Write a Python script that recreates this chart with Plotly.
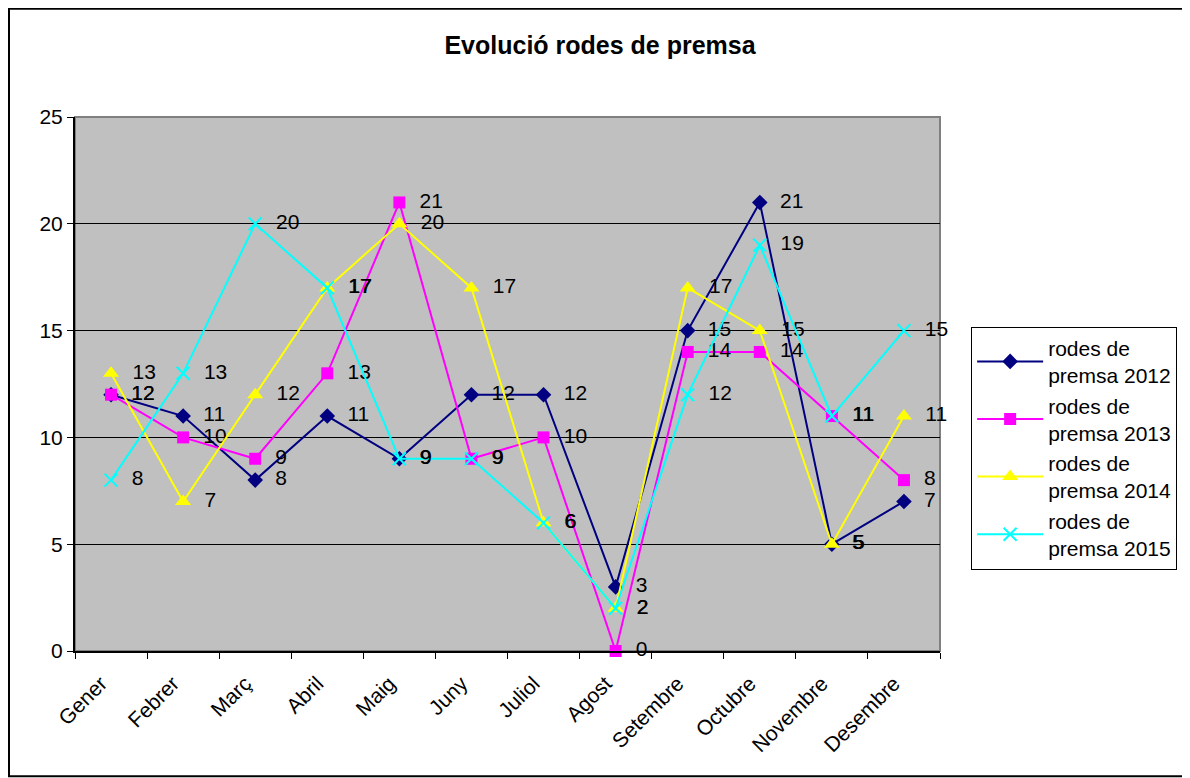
import plotly.graph_objects as go

mesos = ['Gener', 'Febrer', 'Març', 'Abril', 'Maig', 'Juny', 'Juliol',
         'Agost', 'Setembre', 'Octubre', 'Novembre', 'Desembre']

rodes_2012 = [12, 11, 8, 11, 9, 12, 12, 3, 15, 21, 5, 7]
rodes_2013 = [12, 10, 9, 13, 21, 9, 10, 0, 14, 14, 11, 8]
rodes_2014 = [13, 7, 12, 17, 20, 17, 6, 2, 17, 15, 5, 11]
rodes_2015 = [8, 13, 20, 17, 9, 9, 6, 2, 12, 19, 11, 15]

series = [
    ('rodes de<br>premsa 2012', rodes_2012, '#000080', 'diamond'),
    ('rodes de<br>premsa 2013', rodes_2013, '#FF00FF', 'square'),
    ('rodes de<br>premsa 2014', rodes_2014, '#FFFF00', 'triangle-up'),
    ('rodes de<br>premsa 2015', rodes_2015, '#00FFFF', 'x-thin'),
]

font = 'Arial, Liberation Sans, sans-serif'

fig = go.Figure()
for nom, valors, color, simbol in series:
    marker = dict(symbol=simbol, size=12, color=color)
    if simbol == 'triangle-up':
        marker = dict(symbol=simbol, size=14, color=color)
    if simbol == 'x-thin':
        marker = dict(symbol=simbol, size=13, color=color,
                      line=dict(color=color, width=2))
    fig.add_trace(go.Scatter(
        x=mesos, y=valors, name=nom, mode='lines+markers+text',
        line=dict(color=color, width=2), marker=marker,
        text=['&nbsp;&nbsp;' + str(v) for v in valors],
        textposition='middle right',
        textfont=dict(family=font, size=21, color='black'),
        cliponaxis=False,
    ))

fig.update_layout(
    width=1190, height=778,
    margin=dict(l=67, r=258, t=109, b=135),
    paper_bgcolor='white', plot_bgcolor='#C0C0C0',
    font=dict(family=font, size=21, color='black'),
    title=dict(text='<b>Evolució rodes de premsa</b>', x=0.4975, y=0.952,
               xanchor='center', yanchor='middle', font=dict(size=25)),
    showlegend=True,
    legend=dict(x=1.036, y=0.38, xanchor='left', yanchor='middle',
                bordercolor='black', borderwidth=1, bgcolor='white',
                font=dict(size=21), tracegroupgap=0, itemwidth=66),
    shapes=[
        dict(type='rect', xref='paper', yref='paper', x0=-0.0763, x1=1.2855,
             y0=-0.2345, y1=1.2026, line=dict(color='black', width=2),
             layer='below'),
        dict(type='rect', xref='paper', yref='paper', x0=0, x1=1, y0=0, y1=1,
             line=dict(color='#808080', width=2), layer='below'),
    ],
)

fig.update_xaxes(
    type='category', range=[-0.5, 11.5], tickson='boundaries',
    ticks='outside', ticklen=6, tickcolor='black', tickangle=-45,
    ticklabelstandoff=10, ticklabelshift=-10,
    showline=True, linecolor='black', linewidth=2, showgrid=False,
    tickfont=dict(size=21),
)
fig.update_yaxes(
    range=[0, 25], dtick=5, ticks='outside', ticklen=6, tickcolor='black',
    showline=True, linecolor='black', linewidth=2,
    showgrid=True, gridcolor='black', gridwidth=1, zeroline=False,
    tickfont=dict(size=21),
)

fig.write_html('out.html')
